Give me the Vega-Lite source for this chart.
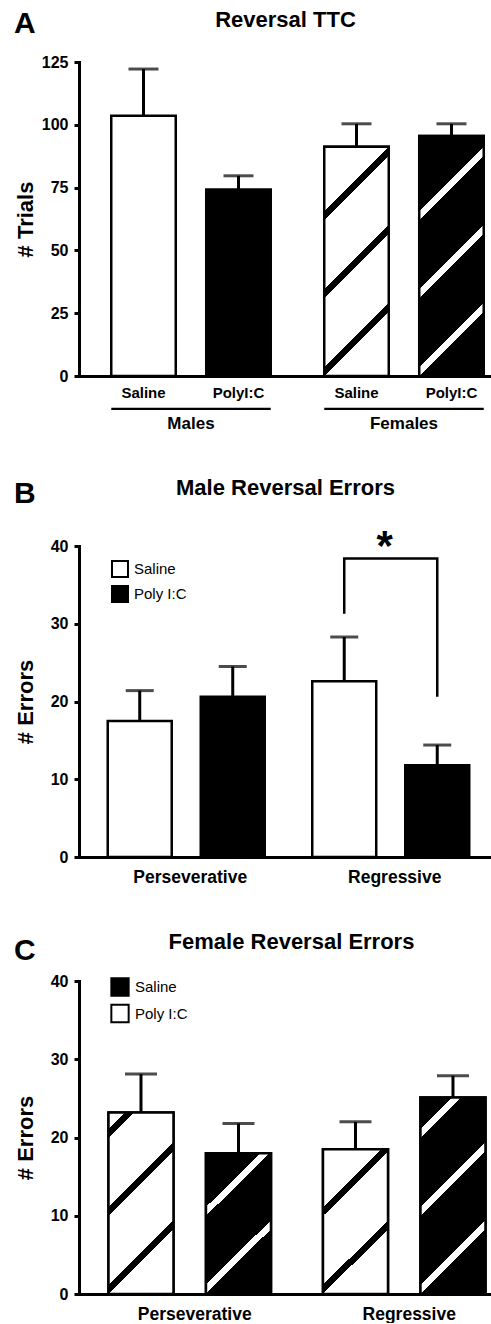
{
  "$schema": "https://vega.github.io/schema/vega-lite/v6.json",
  "background": "white",
  "padding": {"left": 14, "top": 9, "right": 0, "bottom": 0},
  "spacing": 45,
  "resolve": {"scale": {"fill": "independent", "xOffset": "independent"}, "legend": {"fill": "independent"}},
  "config": {
    "font": "Liberation Sans",
    "view": {"stroke": null},
    "axis": {"domainColor": "black", "domainWidth": 3, "domainCap": "square", "tickColor": "black", "tickWidth": 3, "labelColor": "black", "titleColor": "black", "grid": false, "labelFont": "Liberation Sans", "titleFont": "Liberation Sans", "labelFontWeight": "bold", "titleFontWeight": "bold"},
    "axisY": {"tickSize": 5, "labelPadding": 6, "labelFontSize": 16, "titleFontSize": 22, "titlePadding": 4, "minExtent": 38, "maxExtent": 38},
    "axisX": {"ticks": false, "tickSize": 0, "labelAngle": 0, "labelBaseline": "alphabetic", "labelFontSize": 17},
    "legend": {"padding": 0, "labelFont": "Liberation Sans", "labelFontSize": 15, "labelFontWeight": "normal", "labelColor": "black", "symbolType": "square", "symbolStrokeColor": "black", "symbolStrokeWidth": 2, "labelOffset": 5}
  },
  "vconcat": [
    {
      "width": 413,
      "height": 314,
      "title": {"text": "A", "anchor": "start", "frame": "bounds", "fontSize": 30, "fontWeight": "bold", "baseline": "alphabetic", "offset": -54, "color": "black"},
      "data": {"values": [
        {"sex": "Males", "treatment": "Saline", "mean": 103.6, "upper": 122.2},
        {"sex": "Males", "treatment": "PolyI:C", "mean": 74.2, "upper": 79.7},
        {"sex": "Females", "treatment": "Saline", "mean": 91.3, "upper": 100.4},
        {"sex": "Females", "treatment": "PolyI:C", "mean": 95.5, "upper": 100.4}
      ]},
      "layer": [
        {
          "mark": {"type": "bar", "stroke": "black", "strokeWidth": 2.5},
          "encoding": {
            "x": {"field": "sex", "type": "nominal", "scale": {"domain": ["Males", "Females"], "paddingInner": 0.2512, "paddingOuter": 0.0951, "align": 0.796}, "axis": {"title": null, "labelPadding": 52}},
            "xOffset": {"field": "treatment", "type": "nominal", "scale": {"domain": ["Saline", "PolyI:C"], "paddingInner": 0.321, "paddingOuter": 0}},
            "y": {"field": "mean", "type": "quantitative", "stack": null, "scale": {"domain": [0, 125], "nice": false}, "axis": {"title": "# Trials", "values": [0, 25, 50, 75, 100, 125]}},
            "fill": {"field": "treatment", "type": "nominal", "scale": {"domain": ["Saline", "PolyI:C"], "range": ["white", "black"]}, "legend": null}
          }
        },
        {
          "transform": [{"filter": "datum.sex === 'Females' && datum.treatment === 'Saline'"}],
          "mark": {"type": "bar", "stroke": "black", "strokeWidth": 2.5, "fill": {"gradient": "linear", "x1": 0, "y1": 0, "x2": 0.334, "y2": 1.1873, "stops": [
            {"offset": 0, "color": "white"}, {"offset": 0.2189, "color": "white"}, {"offset": 0.2189, "color": "black"}, {"offset": 0.2495, "color": "black"}, {"offset": 0.2495, "color": "white"},
            {"offset": 0.4843, "color": "white"}, {"offset": 0.4843, "color": "black"}, {"offset": 0.515, "color": "black"}, {"offset": 0.515, "color": "white"},
            {"offset": 0.7498, "color": "white"}, {"offset": 0.7498, "color": "black"}, {"offset": 0.7805, "color": "black"}, {"offset": 0.7805, "color": "white"}, {"offset": 1, "color": "white"}]}},
          "encoding": {
            "x": {"field": "sex", "type": "nominal"},
            "xOffset": {"field": "treatment", "type": "nominal"},
            "y": {"field": "mean", "type": "quantitative", "stack": null}
          }
        },
        {
          "transform": [{"filter": "datum.sex === 'Females' && datum.treatment === 'PolyI:C'"}],
          "mark": {"type": "bar", "stroke": "black", "strokeWidth": 2.5, "fill": {"gradient": "linear", "x1": 0, "y1": 0, "x2": 0.3182, "y2": 1.1833, "stops": [
            {"offset": 0, "color": "black"}, {"offset": 0.2461, "color": "black"}, {"offset": 0.2461, "color": "white"}, {"offset": 0.2756, "color": "white"}, {"offset": 0.2756, "color": "black"},
            {"offset": 0.5023, "color": "black"}, {"offset": 0.5023, "color": "white"}, {"offset": 0.5319, "color": "white"}, {"offset": 0.5319, "color": "black"},
            {"offset": 0.7585, "color": "black"}, {"offset": 0.7585, "color": "white"}, {"offset": 0.7881, "color": "white"}, {"offset": 0.7881, "color": "black"}, {"offset": 1, "color": "black"}]}},
          "encoding": {
            "x": {"field": "sex", "type": "nominal"},
            "xOffset": {"field": "treatment", "type": "nominal"},
            "y": {"field": "mean", "type": "quantitative", "stack": null}
          }
        },
        {
          "mark": {"type": "rule", "color": "black", "strokeWidth": 3},
          "encoding": {
            "x": {"field": "sex", "type": "nominal"},
            "xOffset": {"field": "treatment", "type": "nominal"},
            "y": {"field": "mean", "type": "quantitative"},
            "y2": {"field": "upper"}
          }
        },
        {
          "mark": {"type": "tick", "color": "black", "thickness": 3, "size": 30},
          "encoding": {
            "x": {"field": "sex", "type": "nominal"},
            "xOffset": {"field": "treatment", "type": "nominal"},
            "y": {"field": "upper", "type": "quantitative"}
          }
        },
        {
          "mark": {"type": "text", "fontSize": 15, "fontWeight": "bold", "baseline": "alphabetic", "dy": 22, "color": "black"},
          "encoding": {
            "x": {"field": "sex", "type": "nominal"},
            "xOffset": {"field": "treatment", "type": "nominal"},
            "y": {"datum": 0, "type": "quantitative"},
            "text": {"field": "treatment"}
          }
        },
        {
          "data": {"values": [{"sex": "Males"}, {"sex": "Females"}]},
          "mark": {"type": "bar", "color": "black"},
          "encoding": {
            "x": {"field": "sex", "type": "nominal"},
            "y": {"datum": -12.6, "type": "quantitative"},
            "y2": {"datum": -13.5}
          }
        },
        {
          "data": {"values": [{"heading": "Reversal TTC"}]},
          "mark": {"type": "text", "fontSize": 22, "fontWeight": "bold", "baseline": "alphabetic", "color": "black"},
          "encoding": {
            "y": {"datum": 138.8, "type": "quantitative"},
            "text": {"field": "heading"}
          }
        }
      ]
    },
    {
      "width": 413,
      "height": 311,
      "title": {"text": "B", "anchor": "start", "frame": "bounds", "fontSize": 30, "fontWeight": "bold", "baseline": "alphabetic", "offset": -56, "color": "black"},
      "data": {"values": [
        {"type": "Perseverative", "treatment": "Saline", "mean": 17.5, "upper": 21.4},
        {"type": "Perseverative", "treatment": "Poly I:C", "mean": 20.6, "upper": 24.5},
        {"type": "Regressive", "treatment": "Saline", "mean": 22.6, "upper": 28.3},
        {"type": "Regressive", "treatment": "Poly I:C", "mean": 11.8, "upper": 14.4}
      ]},
      "layer": [
        {
          "mark": {"type": "bar", "stroke": "black", "strokeWidth": 2.5},
          "encoding": {
            "x": {"field": "type", "type": "nominal", "scale": {"domain": ["Perseverative", "Regressive"], "paddingInner": 0.2323, "paddingOuter": 0.1259, "align": 0.558}, "axis": {"title": null, "labelPadding": 25, "labelFontSize": 17.5, "labelOffset": 4}},
            "xOffset": {"field": "treatment", "type": "nominal", "scale": {"domain": ["Saline", "Poly I:C"], "paddingInner": 0.312, "paddingOuter": 0}},
            "y": {"field": "mean", "type": "quantitative", "stack": null, "scale": {"domain": [0, 40], "nice": false}, "axis": {"title": "# Errors", "values": [0, 10, 20, 30, 40]}},
            "fill": {"field": "treatment", "type": "nominal", "scale": {"domain": ["Saline", "Poly I:C"], "range": ["white", "black"]}, "legend": {"title": null, "orient": "none", "legendX": 32, "legendY": 14, "symbolSize": 256, "rowPadding": 1}}
          }
        },
        {
          "mark": {"type": "rule", "color": "black", "strokeWidth": 3},
          "encoding": {
            "x": {"field": "type", "type": "nominal"},
            "xOffset": {"field": "treatment", "type": "nominal"},
            "y": {"field": "mean", "type": "quantitative"},
            "y2": {"field": "upper"}
          }
        },
        {
          "mark": {"type": "tick", "color": "black", "thickness": 3, "size": 28},
          "encoding": {
            "x": {"field": "type", "type": "nominal"},
            "xOffset": {"field": "treatment", "type": "nominal"},
            "y": {"field": "upper", "type": "quantitative"}
          }
        },
        {
          "data": {"values": [
            {"type": "Regressive", "treatment": "Saline", "by": 31.3, "step": 1},
            {"type": "Regressive", "treatment": "Saline", "by": 38.4, "step": 2},
            {"type": "Regressive", "treatment": "Poly I:C", "by": 38.4, "step": 3},
            {"type": "Regressive", "treatment": "Poly I:C", "by": 20.6, "step": 4}
          ]},
          "mark": {"type": "line", "color": "black", "strokeWidth": 2.5, "strokeJoin": "miter"},
          "encoding": {
            "x": {"field": "type", "type": "nominal"},
            "xOffset": {"field": "treatment", "type": "nominal"},
            "y": {"field": "by", "type": "quantitative"},
            "order": {"field": "step", "type": "quantitative"}
          }
        },
        {
          "data": {"values": [{"type": "Regressive", "label": "*"}]},
          "mark": {"type": "text", "fontSize": 42, "fontWeight": "bold", "baseline": "alphabetic", "dx": -6, "color": "black"},
          "encoding": {
            "x": {"field": "type", "type": "nominal"},
            "y": {"datum": 38.2, "type": "quantitative"},
            "text": {"field": "label"}
          }
        },
        {
          "data": {"values": [{"heading": "Male Reversal Errors"}]},
          "mark": {"type": "text", "fontSize": 22, "fontWeight": "bold", "baseline": "alphabetic", "color": "black"},
          "encoding": {
            "y": {"datum": 46.56, "type": "quantitative"},
            "text": {"field": "heading"}
          }
        }
      ]
    },
    {
      "width": 413,
      "height": 313,
      "title": {"text": "C", "anchor": "start", "frame": "bounds", "fontSize": 30, "fontWeight": "bold", "baseline": "alphabetic", "offset": -59, "color": "black"},
      "data": {"values": [
        {"type": "Perseverative", "treatment": "Saline", "mean": 23.2, "upper": 28.1},
        {"type": "Perseverative", "treatment": "Poly I:C", "mean": 18.0, "upper": 21.8},
        {"type": "Regressive", "treatment": "Saline", "mean": 18.5, "upper": 22.0},
        {"type": "Regressive", "treatment": "Poly I:C", "mean": 25.1, "upper": 27.9}
      ]},
      "layer": [
        {
          "mark": {"type": "bar", "stroke": "black", "strokeWidth": 2.5},
          "encoding": {
            "x": {"field": "type", "type": "nominal", "scale": {"domain": ["Perseverative", "Regressive"], "paddingInner": 0.2424, "paddingOuter": 0.0839, "align": 0.819}, "axis": {"title": null, "labelPadding": 25, "labelFontSize": 17.5, "labelOffset": 5}},
            "xOffset": {"field": "treatment", "type": "nominal", "scale": {"domain": ["Saline", "Poly I:C"], "paddingInner": 0.333, "paddingOuter": 0}},
            "y": {"field": "mean", "type": "quantitative", "stack": null, "scale": {"domain": [0, 40], "nice": false}, "axis": {"title": "# Errors", "values": [0, 10, 20, 30, 40]}},
            "fill": {"field": "treatment", "type": "nominal", "scale": {"domain": ["Saline", "Poly I:C"], "range": ["black", "white"]}, "legend": {"title": null, "orient": "none", "legendX": 31, "legendY": -4, "symbolSize": 300, "rowPadding": 0.5}}
          }
        },
        {
          "transform": [{"filter": "datum.type === 'Perseverative' && datum.treatment === 'Saline'"}],
          "mark": {"type": "bar", "stroke": "black", "strokeWidth": 2.5, "fill": {"gradient": "linear", "x1": 0, "y1": 0, "x2": 0.4311, "y2": 1.2037, "stops": [
            {"offset": 0, "color": "white"}, {"offset": 0.0669, "color": "white"}, {"offset": 0.0669, "color": "black"}, {"offset": 0.1034, "color": "black"}, {"offset": 0.1034, "color": "white"},
            {"offset": 0.3834, "color": "white"}, {"offset": 0.3834, "color": "black"}, {"offset": 0.4199, "color": "black"}, {"offset": 0.4199, "color": "white"},
            {"offset": 0.6998, "color": "white"}, {"offset": 0.6998, "color": "black"}, {"offset": 0.7363, "color": "black"}, {"offset": 0.7363, "color": "white"}, {"offset": 1, "color": "white"}]}},
          "encoding": {
            "x": {"field": "type", "type": "nominal"},
            "xOffset": {"field": "treatment", "type": "nominal"},
            "y": {"field": "mean", "type": "quantitative", "stack": null}
          }
        },
        {
          "transform": [{"filter": "datum.type === 'Perseverative' && datum.treatment === 'Poly I:C'"}],
          "mark": {"type": "bar", "stroke": "black", "strokeWidth": 2.5, "fill": {"gradient": "linear", "x1": 0, "y1": 0, "x2": 0.5558, "y2": 1.2049, "stops": [
            {"offset": 0, "color": "black"}, {"offset": 0.2618, "color": "black"}, {"offset": 0.2618, "color": "white"}, {"offset": 0.3055, "color": "white"}, {"offset": 0.3055, "color": "black"},
            {"offset": 0.6406, "color": "black"}, {"offset": 0.6406, "color": "white"}, {"offset": 0.6843, "color": "white"}, {"offset": 0.6843, "color": "black"}, {"offset": 1, "color": "black"}]}},
          "encoding": {
            "x": {"field": "type", "type": "nominal"},
            "xOffset": {"field": "treatment", "type": "nominal"},
            "y": {"field": "mean", "type": "quantitative", "stack": null}
          }
        },
        {
          "transform": [{"filter": "datum.type === 'Regressive' && datum.treatment === 'Saline'"}],
          "mark": {"type": "bar", "stroke": "black", "strokeWidth": 2.5, "fill": {"gradient": "linear", "x1": 0, "y1": 0, "x2": 0.5413, "y2": 1.2059, "stops": [
            {"offset": 0, "color": "white"}, {"offset": 0.2755, "color": "white"}, {"offset": 0.2755, "color": "black"}, {"offset": 0.3184, "color": "black"}, {"offset": 0.3184, "color": "white"},
            {"offset": 0.6473, "color": "white"}, {"offset": 0.6473, "color": "black"}, {"offset": 0.6902, "color": "black"}, {"offset": 0.6902, "color": "white"}, {"offset": 1, "color": "white"}]}},
          "encoding": {
            "x": {"field": "type", "type": "nominal"},
            "xOffset": {"field": "treatment", "type": "nominal"},
            "y": {"field": "mean", "type": "quantitative", "stack": null}
          }
        },
        {
          "transform": [{"filter": "datum.type === 'Regressive' && datum.treatment === 'Poly I:C'"}],
          "mark": {"type": "bar", "stroke": "black", "strokeWidth": 2.5, "fill": {"gradient": "linear", "x1": 0, "y1": 0, "x2": 0.397, "y2": 1.1996, "stops": [
            {"offset": 0, "color": "black"}, {"offset": 0.1201, "color": "black"}, {"offset": 0.1201, "color": "white"}, {"offset": 0.1546, "color": "white"}, {"offset": 0.1546, "color": "black"},
            {"offset": 0.4185, "color": "black"}, {"offset": 0.4185, "color": "white"}, {"offset": 0.4529, "color": "white"}, {"offset": 0.4529, "color": "black"},
            {"offset": 0.7169, "color": "black"}, {"offset": 0.7169, "color": "white"}, {"offset": 0.7513, "color": "white"}, {"offset": 0.7513, "color": "black"}, {"offset": 1, "color": "black"}]}},
          "encoding": {
            "x": {"field": "type", "type": "nominal"},
            "xOffset": {"field": "treatment", "type": "nominal"},
            "y": {"field": "mean", "type": "quantitative", "stack": null}
          }
        },
        {
          "mark": {"type": "rule", "color": "black", "strokeWidth": 3},
          "encoding": {
            "x": {"field": "type", "type": "nominal"},
            "xOffset": {"field": "treatment", "type": "nominal"},
            "y": {"field": "mean", "type": "quantitative"},
            "y2": {"field": "upper"}
          }
        },
        {
          "mark": {"type": "tick", "color": "black", "thickness": 3, "size": 32},
          "encoding": {
            "x": {"field": "type", "type": "nominal"},
            "xOffset": {"field": "treatment", "type": "nominal"},
            "y": {"field": "upper", "type": "quantitative"}
          }
        },
        {
          "data": {"values": [{"heading": "Female Reversal Errors"}]},
          "mark": {"type": "text", "fontSize": 22, "fontWeight": "bold", "baseline": "alphabetic", "dx": 6, "color": "black"},
          "encoding": {
            "y": {"datum": 44.05, "type": "quantitative"},
            "text": {"field": "heading"}
          }
        }
      ]
    }
  ]
}
